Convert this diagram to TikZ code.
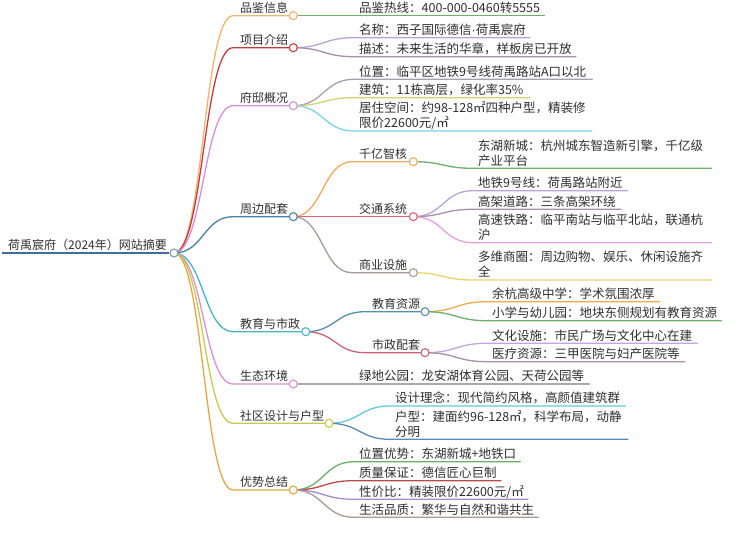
\documentclass[tikz,border=0pt]{standalone}
\usepackage{fontspec}
\setmainfont{Noto Sans CJK SC}
\newfontfamily\latinf{Liberation Sans}
\usetikzlibrary{calc,backgrounds}
\definecolor{txt}{HTML}{2E2E2E}
\definecolor{rootblue}{HTML}{3D6F98}
\definecolor{cA}{HTML}{F2B36A}
\definecolor{cB}{HTML}{C23B3E}
\definecolor{cC}{HTML}{D48FD8}
\definecolor{cD}{HTML}{4A80A8}
\definecolor{cE}{HTML}{45B5C5}
\definecolor{cF}{HTML}{D890D8}
\definecolor{cG}{HTML}{C8C850}
\definecolor{cH}{HTML}{E8A545}
\definecolor{lgreen}{HTML}{6CAE6C}
\definecolor{llav}{HTML}{B9A3D3}
\definecolor{lmauve}{HTML}{A98FA9}
\definecolor{lgray}{HTML}{A4A0B0}
\definecolor{lyel}{HTML}{D2D272}
\definecolor{lcyan}{HTML}{7FD0E0}
\definecolor{borange}{HTML}{F2A95E}
\definecolor{bred}{HTML}{E0606F}
\definecolor{bgray}{HTML}{A89A9A}
\definecolor{lgold}{HTML}{E6D466}
\definecolor{lpink}{HTML}{E2A2DE}
\definecolor{bteal}{HTML}{5590AA}
\definecolor{brose}{HTML}{C46474}
\definecolor{lorange}{HTML}{F2AA4C}
\definecolor{lviolet}{HTML}{C4A4E0}
\definecolor{lsilver}{HTML}{AAAAAA}
\definecolor{lsky}{HTML}{62C8D8}
\definecolor{lsteel}{HTML}{5A8AB2}
\definecolor{ldred}{HTML}{B84A4A}
\definecolor{lpurp}{HTML}{A88AC8}
\tikzset{
  lbl/.style={inner sep=0pt, anchor=base west, text=txt, font=\fontsize{12}{14}\selectfont},
  leaf/.style={inner sep=0pt, anchor=base west, text=txt, font=\fontsize{12.5}{15}\selectfont},
  dot/.style={circle, draw=#1, fill=white, line width=1.1pt, minimum size=8pt, inner sep=0pt},
  link/.style={line width=1.3pt, line cap=round},
}
% curve from node #2 to coordinate #3, then straight to #4
\newcommand\mmcurve[4]{\draw[link,#1] let \p1=(#2.center), \p2=(#3) in (#2.center) .. controls ({(\x1+\x2)/2},\y1) and ({(\x1+\x2)/2},\y2) .. (#3) -- (#4);}
% leaf: #1 name, #2 text x, #3 line y, #4 colour, #5 parent, #6 extra length, #7 text
\newcommand\mmleaf[7]{%
  \node[leaf] (#1) at (#2,#3-3) {#7};
  \coordinate (#1s) at (#2-5,#3);
  \coordinate (#1e) at ($(#1.east |- #1s)+(#6,0)$);
  \begin{pgfonlayer}{background}\mmcurve{#4}{#5}{#1s}{#1e}\end{pgfonlayer}}
% branch: #1 name, #2 text x, #3 line y, #4 circle x, #5 colour, #6 parent, #7 text, #8 gap
\newcommand\mmbranch[8]{%
  \node[lbl] (#1t) at (#2,#3-3) {#7};
  \node[dot=#5] (#1) at (#4,#3) {};
  \coordinate (#1s) at (#2-#8,#3);
  \begin{pgfonlayer}{background}\mmcurve{#5}{#6}{#1s}{#1}\end{pgfonlayer}}
\newcommand\twolines[2]{\begin{tabular}[b]{@{}l@{}}#1\\#2\end{tabular}}
\begin{document}
\begin{tikzpicture}[x=1pt,y=-1pt]
\useasboundingbox (0,0) rectangle (740,537);

% root
\node[lbl] (roott) at (8,250) {荷禹宸府（2024年）网站摘要};
\node[dot=rootblue!70] (root) at (174,253) {};
\coordinate (rootstart) at (2,253);
\begin{pgfonlayer}{background}
\draw[line width=2.5pt, rootblue] (rootstart) -- (root);
\end{pgfonlayer}

% level 1
\mmbranch{pj}{240}{15.7}{293.3}{cA}{root}{品鉴信息}{7}
\mmbranch{xm}{240}{47.7}{293.3}{cB}{root}{项目介绍}{7}
\mmbranch{fd}{240}{105.7}{293.3}{cC}{root}{府邸概况}{7}
\mmbranch{zb}{240}{216.7}{293.3}{cD}{root}{周边配套}{7}
\mmbranch{jy}{240}{331.7}{305.7}{cE}{root}{教育与市政}{7}
\mmbranch{st}{240}{384}{293.3}{cF}{root}{生态环境}{7}
\mmbranch{sq}{240}{423.3}{329}{cG}{root}{社区设计与户型}{7}
\mmbranch{ys}{240}{490}{293.3}{cH}{root}{优势总结}{7}

% 品鉴信息
\mmleaf{pj1}{359}{15.7}{lgreen}{pj}{4}{品鉴热线：400-000-0460转5555}
% 项目介绍
\mmleaf{xm1}{359}{37.7}{llav}{xm}{4}{名称：西子国际德信{\latinf ·}荷禹宸府}
\mmleaf{xm2}{359}{56.7}{lmauve}{xm}{4}{描述：未来生活的华章，样板房已开放}
% 府邸概况
\mmleaf{fd1}{359}{79.3}{lgray}{fd}{6}{位置：临平区地铁9号线荷禹路站A口以北}
\mmleaf{fd2}{359}{97.7}{lyel}{fd}{6}{建筑：11栋高层，绿化率35\%}
\mmleaf{fd3}{359}{131}{lcyan}{fd}{6}{\twolines{居住空间：约98-128㎡四种户型，精装修}{限价22600元/㎡}}

% 周边配套
\mmbranch{qy}{359}{161.7}{413.3}{borange}{zb}{千亿智核}{7}
\mmbranch{jt}{359}{216.7}{413.3}{bred}{zb}{交通系统}{7}
\mmbranch{sy}{359}{272.7}{413.3}{bgray}{zb}{商业设施}{7}
\mmleaf{qy1}{478}{168.3}{lgreen}{qy}{8}{\twolines{东湖新城：杭州城东智造新引擎，千亿级}{产业平台}}
\mmleaf{jt1}{478}{190.7}{llav}{jt}{5}{地铁9号线：荷禹路站附近}
\mmleaf{jt2}{478}{209.3}{lmauve}{jt}{5}{高架道路：三条高架环绕}
\mmleaf{jt3}{478}{242.7}{lpink}{jt}{8}{\twolines{高速铁路：临平南站与临平北站，联通杭}{沪}}
\mmleaf{sy1}{478}{280}{lgold}{sy}{8}{\twolines{多维商圈：周边购物、娱乐、休闲设施齐}{全}}

% 教育与市政
\mmbranch{jz}{372}{311.7}{425}{bteal}{jy}{教育资源}{7}
\mmbranch{sz}{372}{352.7}{425}{brose}{jy}{市政配套}{7}
\mmleaf{jz1}{492}{301.7}{lorange}{jz}{5}{余杭高级中学：学术氛围浓厚}
\mmleaf{jz2}{492}{320.7}{lgreen}{jz}{4}{小学与幼儿园：地块东侧规划有教育资源}
\mmleaf{sz1}{492}{343.3}{lviolet}{sz}{5}{文化设施：市民广场与文化中心在建}
\mmleaf{sz2}{492}{361.7}{lmauve}{sz}{5}{医疗资源：三甲医院与妇产医院等}

% 生态环境
\mmleaf{st1}{359}{384}{lsilver}{st}{5}{绿地公园：龙安湖体育公园、天荷公园等}

% 社区设计与户型
\mmleaf{sq1}{395}{406}{lsky}{sq}{5}{设计理念：现代简约风格，高颜值建筑群}
\mmleaf{sq2}{395}{439.3}{lsteel}{sq}{6}{\twolines{户型：建面约96-128㎡，科学布局，动静}{分明}}

% 优势总结
\mmleaf{ys1}{359}{461.7}{lgreen}{ys}{4}{位置优势：东湖新城+地铁口}
\mmleaf{ys2}{359}{480.7}{ldred}{ys}{4}{质量保证：德信匠心巨制}
\mmleaf{ys3}{359}{499.3}{lpurp}{ys}{4}{性价比：精装限价22600元/㎡}
\mmleaf{ys4}{359}{517.3}{bgray}{ys}{4}{生活品质：繁华与自然和谐共生}
\end{tikzpicture}
\end{document}
